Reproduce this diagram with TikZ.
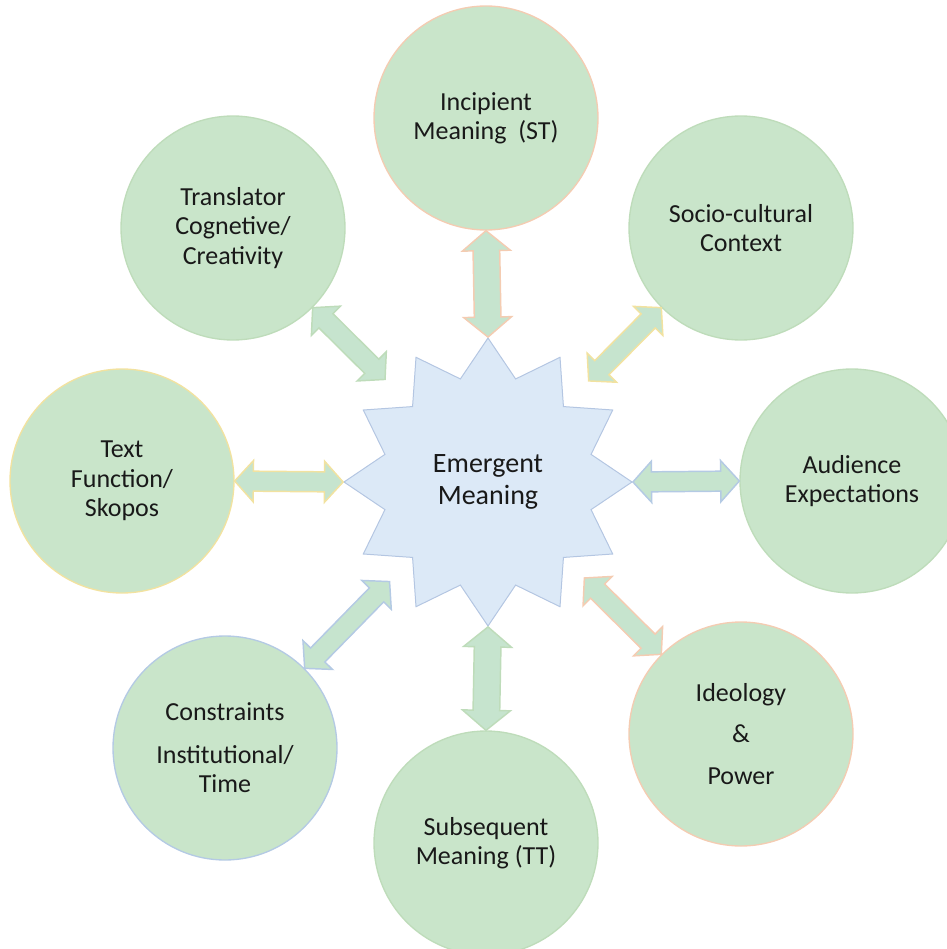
\documentclass[tikz,border=0pt]{standalone}
\usepackage{fontspec}
\setmainfont{Carlito}
\usetikzlibrary{shapes.geometric,calc}

\definecolor{circfill}{RGB}{201,229,202}
\definecolor{arrfill}{RGB}{198,228,206}
\definecolor{starfill}{RGB}{220,233,247}
\definecolor{starline}{RGB}{180,198,226}
\definecolor{orangeline}{RGB}{244,204,178}
\definecolor{yellowline}{RGB}{242,226,160}
\definecolor{blueline}{RGB}{180,202,228}
\definecolor{greenline}{RGB}{190,220,186}
\definecolor{textcol}{RGB}{25,25,25}

\tikzset{every picture/.style={line width=0.75pt}}
\tikzset{
  bhead/.store in=\bhead, bshaft/.store in=\bshaft, blen/.store in=\blen,
  bhead=15.5pt, bshaft=7.5pt, blen=14pt,
  bubble/.style={circle, fill=circfill, draw=#1, line width=1pt, minimum size=168pt, inner sep=0pt,
    align=center, text=textcol, font=\fontsize{19.5}{22}\selectfont},
  blockarr/.style={fill=arrfill, line width=1.1pt, line join=miter, to path={
    (\tikztostart)
    -- ($(\tikztostart)!\blen!(\tikztotarget)!\bhead!90:(\tikztotarget)$)
    -- ($(\tikztostart)!\blen!(\tikztotarget)!\bshaft!90:(\tikztotarget)$)
    -- ($(\tikztotarget)!\blen!(\tikztostart)!\bshaft!-90:(\tikztostart)$)
    -- ($(\tikztotarget)!\blen!(\tikztostart)!\bhead!-90:(\tikztostart)$)
    -- (\tikztotarget)
    -- ($(\tikztotarget)!\blen!(\tikztostart)!\bhead!90:(\tikztostart)$)
    -- ($(\tikztotarget)!\blen!(\tikztostart)!\bshaft!90:(\tikztostart)$)
    -- ($(\tikztostart)!\blen!(\tikztotarget)!\bshaft!-90:(\tikztotarget)$)
    -- ($(\tikztostart)!\blen!(\tikztotarget)!\bhead!-90:(\tikztotarget)$)
    -- cycle}}
}

\begin{document}
\begin{tikzpicture}[x=0.75pt,y=0.75pt,yscale=-1,xscale=1]
	\useasboundingbox (0,0) rectangle (946,949);

	%Shape: Star
	\node[star, star points=12, star point ratio=1.35, minimum size=216pt, inner sep=0pt,
	  fill=starfill, draw=starline, align=center, text=textcol,
	  font=\fontsize{21}{24}\selectfont] (emerg) at (488,482) {Emergent\\Meaning};

	%Shape: Circle
	\node[bubble=orangeline] (inc) at (486,118) {Incipient\\Meaning~~(ST)};
	%Shape: Circle
	\node[bubble=greenline] (trans) at (233,228) {Translator\\Cognetive/\\Creativity};
	%Shape: Circle
	\node[bubble=greenline] (soc) at (741,228) {Socio-cultural\\Context};
	%Shape: Circle
	\node[bubble=yellowline] (text) at (122,481) {Text\\Function/\\Skopos};
	%Shape: Circle
	\node[bubble=greenline] (aud) at (852,481) {Audience\\Expectations};
	%Shape: Circle
	\node[bubble=blueline] (cons) at (225,748) {Constraints\\[10pt]Institutional/\\Time};
	%Shape: Circle
	\node[bubble=orangeline] (ideo) at (741,734) {Ideology\\[9pt]\&\\[9pt]Power};
	%Shape: Circle
	\node[bubble=greenline] (subs) at (486,843) {Subsequent\\Meaning (TT)};

	%free ends of the slanted arrows
	\coordinate (transend) at ($(emerg.center)!109pt!(trans.center)$);
	\coordinate (socend) at ($(emerg.center)!107pt!(soc.center)$);
	\coordinate (ideoend) at ($(emerg.center)!102pt!(ideo.center)$);
	\coordinate (consend) at ($(emerg.center)!105pt!(cons.center)$);

	%Double Arrows
	\draw[blockarr, draw=orangeline, bhead=18pt, bshaft=10pt, blen=15pt] (inc.south) to (emerg.north);
	\draw[blockarr, draw=greenline, bhead=18pt, bshaft=10pt, blen=15pt] (emerg.south) to (subs.north);
	\draw[blockarr, draw=yellowline] (text.east) to (emerg.west);
	\draw[blockarr, draw=blueline] (emerg.east) to (aud.west);
	\draw[blockarr, draw=greenline] (trans.-45) to (transend);
	\draw[blockarr, draw=yellowline] (soc.-135) to (socend);
	\draw[blockarr, draw=orangeline] (ideo.135) to (ideoend);
	\draw[blockarr, draw=blueline] (cons.45) to (consend);

\end{tikzpicture}
\end{document}
